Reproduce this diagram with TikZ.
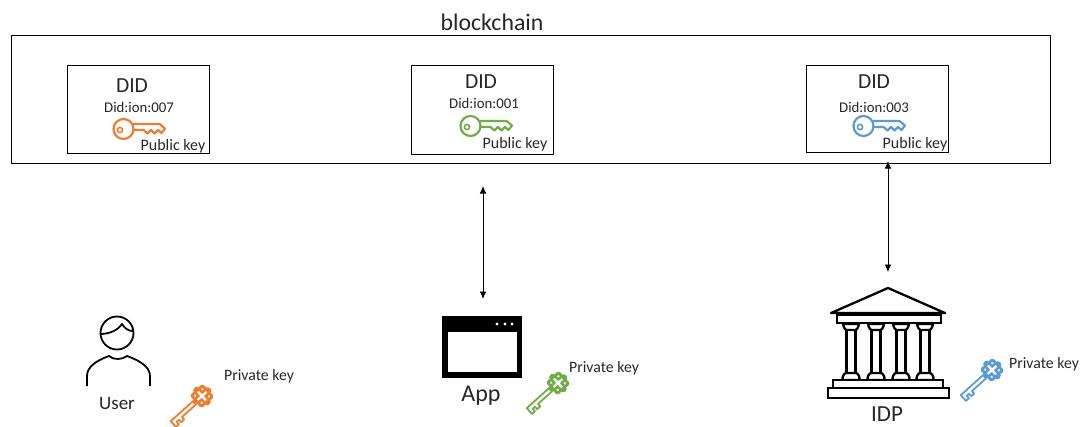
\documentclass[tikz,border=0pt]{standalone}
\usepackage{fontspec}
\usetikzlibrary{arrows.meta}
\setmainfont{Carlito}
\definecolor{keyorange}{HTML}{ED7D31}
\definecolor{keygreen}{HTML}{70AD47}
\definecolor{keyblue}{HTML}{5B9BD5}
\tikzset{
	caption/.style={inner sep=0pt, text=black!85},
	link/.style={{Latex[length=7.5pt,width=6.5pt]}-{Latex[length=7.5pt,width=6.5pt]}, line width=0.8pt},
	icon/.style={draw=black, line width=2.3pt, fill=white, line join=miter},
	pics/publickey/.style={code={
		\draw[#1, line width=2.2pt, line join=round]
			(9,-5) -- (36,-5) -- (41.5,-0.5) -- (38,4) -- (34.5,1) -- (31,4.5)
			-- (27.5,1) -- (24,4.5) -- (20,1) -- (9,1);
		\draw[#1, line width=2.2pt] (0,0) circle (10);
		\draw[#1, line width=1.6pt] (-3.5,1) circle (2.6);
	}},
	pics/privatekey/.style={code={
		% Griff
		\foreach \a in {0,45,...,315}
			\fill[#1] (\a:7.5) circle (3.8);
		\fill[#1] (0,0) circle (8);
		\fill[white] (-6,-1.1) rectangle (6,1.1);
		\fill[white] (-1.1,-6) rectangle (1.1,6);
		\fill[white] (0,0) circle (2.4);
		\foreach \a in {45,135,225,315}
			\fill[white] (\a:6.8) circle (1.3);
		% Schaft
		\draw[#1, line width=1.8pt, line join=round]
			(10,2.2) -- (40,2.2) -- (40,-5.5) -- (36,-5.5) -- (36,-2.2)
			-- (33,-2.2) -- (33,-5.5) -- (29,-5.5) -- (29,-2.2) -- (10,-2.2);
	}}
}
\begin{document}
\begin{tikzpicture}[x=1pt, y=-1pt]
	\useasboundingbox (0,0) rectangle (1086,426);

	% Blockchain
	\node[caption, font=\fontsize{23.8}{26}\selectfont] (chainlabel) at (492,22) {blockchain};
	\draw[line width=0.8pt] (11,35) rectangle (1050,163);

	% DID Boxen
	\draw[line width=0.8pt] (67,65) rectangle (209,153);
	\node[caption, font=\fontsize{21.5}{24}\selectfont] (did1) at (132,86) {DID};
	\node[caption, font=\fontsize{14.8}{16}\selectfont] (ion1) at (139,107) {Did:ion:007};
	\pic at (123.5,129) {publickey=keyorange};
	\node[caption, font=\fontsize{16}{18}\selectfont] (pub1) at (173,146) {Public key};

	\draw[line width=0.8pt] (411,65) rectangle (553,154);
	\node[caption, font=\fontsize{21.5}{24}\selectfont] (did2) at (481,82) {DID};
	\node[caption, font=\fontsize{14.8}{16}\selectfont] (ion2) at (484,103) {Did:ion:001};
	\pic at (470.5,126) {publickey=keygreen};
	\node[caption, font=\fontsize{16}{18}\selectfont] (pub2) at (515,144) {Public key};

	\draw[line width=0.8pt] (806,65) rectangle (948,152);
	\node[caption, font=\fontsize{21.5}{24}\selectfont] (did3) at (874,82) {DID};
	\node[caption, font=\fontsize{14.8}{16}\selectfont] (ion3) at (874,107) {Did:ion:003};
	\pic at (863.5,126) {publickey=keyblue};
	\node[caption, font=\fontsize{16}{18}\selectfont] (pub3) at (915,144) {Public key};

	% Pfeile
	\coordinate (appup) at (483,186);
	\coordinate (appdown) at (483,299);
	\coordinate (idpup) at (888,161);
	\coordinate (idpdown) at (888,272);
	\draw[link] (appup) -- (appdown);
	\draw[link] (idpup) -- (idpdown);

	% User
	\draw[line width=1.8pt] (117,333) circle (16.5);
	\draw[line width=1.8pt, line join=round] (100,334) .. controls (110,334) and (118,330) .. (122,324)
		.. controls (125,329) and (129,331) .. (133,331);
	\draw[line width=1.8pt, line join=round] (87,386) -- (87,376) .. controls (87,366) and (98,360) .. (109,356)
		.. controls (113,360) and (122,360) .. (127,356) .. controls (138,360) and (150,366) .. (150,376) -- (150,386);
	\node[caption, font=\fontsize{19}{21}\selectfont] (user) at (117,403) {User};
	\pic[rotate=222] at (202,396) {privatekey=keyorange};
	\node[caption, font=\fontsize{15.8}{18}\selectfont] (priv1) at (259,376) {Private key};

	% App
	\fill[black] (442,316) rectangle (522,378);
	\fill[white] (448,332) rectangle (517,372);
	\foreach \x in {497,505,512}
		\fill[white] (\x,324) circle (1.7);
	\node[caption, font=\fontsize{24}{26}\selectfont] (app) at (481,396) {App};
	\pic[rotate=222] at (558,383) {privatekey=keygreen};
	\node[caption, font=\fontsize{15.8}{18}\selectfont] (priv2) at (604,368) {Private key};

	% IDP
	\draw[icon, line join=round] (888,288) -- (945,313) -- (831,313) -- cycle;
	\draw[icon] (837,315) rectangle (941,323);
	\foreach \x in {851,876,901,925} {
		\draw[icon] (\x-4.5,330) rectangle (\x+4.5,373);
		\draw[icon] (\x-8,324) -- (\x+8,324) .. controls (\x+7,329) and (\x+5,330) .. (\x+4.5,330)
			-- (\x-4.5,330) .. controls (\x-5,330) and (\x-7,329) .. (\x-8,324) -- cycle;
		\draw[icon] (\x-8.5,380) .. controls (\x-9,375) and (\x-6,373) .. (\x-4.5,373)
			-- (\x+4.5,373) .. controls (\x+6,373) and (\x+9,375) .. (\x+8.5,380) -- cycle;
	}
	\draw[icon] (833,380) rectangle (943,388);
	\draw[icon] (828,388) rectangle (949,398);
	\node[caption, font=\fontsize{23}{25}\selectfont] (idp) at (887,414) {IDP};
	\pic[rotate=222] at (992,370) {privatekey=keyblue};
	\node[caption, font=\fontsize{15.8}{18}\selectfont] (priv3) at (1044,364) {Private key};
\end{tikzpicture}
\end{document}
